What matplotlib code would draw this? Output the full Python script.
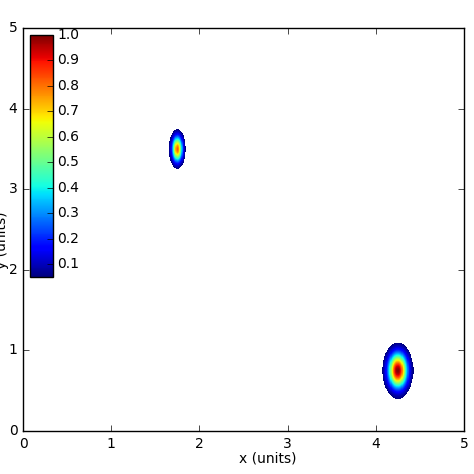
import numpy as np
import matplotlib
matplotlib.use('Agg')
import matplotlib.pyplot as plt

plt.style.use('classic')
plt.rcParams['font.size'] = 10

# blob parameters
centers_x = [1.75, 4.25]
centers_y = [3.50, 0.75]
sigmas_x = [0.040, 0.072]
sigmas_y = [0.105, 0.143]
peaks = [0.82, 1.0]
cutoff = 0.05
cbar_ticks = [0.1, 0.2, 0.3, 0.4, 0.5, 0.6, 0.7, 0.8, 0.9, 1.0]

x = np.linspace(0, 5, 801)
y = np.linspace(0, 5, 801)
X, Y = np.meshgrid(x, y)
Z = np.zeros_like(X)
for cx, cy, sx, sy, a in zip(centers_x, centers_y, sigmas_x, sigmas_y, peaks):
    Z += a * np.exp(-((X - cx) ** 2 / (2 * sx ** 2) + (Y - cy) ** 2 / (2 * sy ** 2)))
Z = np.ma.masked_less(Z, cutoff)

fig = plt.figure(figsize=(4.74, 4.74), dpi=100, facecolor='white')
ax = fig.add_axes([23/474, 43/474, 441/474, 403/474])
im = ax.pcolormesh(X, Y, Z, cmap='jet', vmin=cutoff, vmax=1.0, shading='auto')
ax.set_xlim(0, 5)
ax.set_ylim(0, 5)
ax.tick_params(labelsize=10)
ax.set_xlabel('x (units)', fontsize=10)
ax.set_ylabel('y (units)', fontsize=10)
# original figure was cropped, labels sit off-centre
ax.xaxis.set_label_coords(0.556, -0.05)
ax.yaxis.set_label_coords(-0.032, 0.474)

cax = fig.add_axes([30/474, 197/474, 23/474, 242/474])
cb = fig.colorbar(im, cax=cax, ticks=cbar_ticks)
cb.ax.tick_params(labelsize=10, pad=3)

fig.savefig('out.png', dpi=100, facecolor='white')
